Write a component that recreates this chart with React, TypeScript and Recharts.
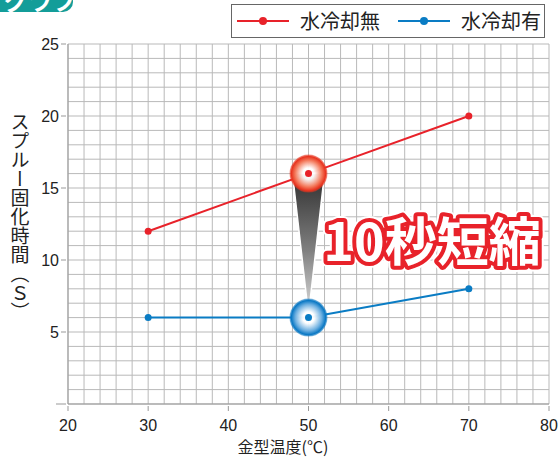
import React from "react";
import { LineChart, Line, XAxis, YAxis, CartesianGrid, ReferenceDot, ReferenceLine } from "recharts";

// mold temperature (°C)
const temps = [30, 50, 70];
// spool solidification time (s)
const noCooling = [12, 16, 20];
const waterCooling = [6, 6, 8];

const seriesNames = ["水冷却無", "水冷却有"];
const seriesColors = ["#e8222a", "#0a7cc4"];

// grid lines every 2°C / every 1 s, labels only on the majors
const xGrid = [20, 22, 24, 26, 28, 30, 32, 34, 36, 38, 40, 42, 44, 46, 48, 50, 52, 54, 56, 58, 60, 62, 64, 66, 68, 70, 72, 74, 76, 78, 80];
const yGrid = [0, 1, 2, 3, 4, 5, 6, 7, 8, 9, 10, 11, 12, 13, 14, 15, 16, 17, 18, 19, 20, 21, 22, 23, 24, 25];
const xLabels = [20, 30, 40, 50, 60, 70, 80];
const yLabels = [5, 10, 15, 20, 25];

const data = temps.map((t, i) => ({ temp: t, dry: noCooling[i], wet: waterCooling[i] }));

const tickFont = "'Liberation Sans', Arial, sans-serif";
const jpFont = "'Noto Sans CJK JP', sans-serif";

function XTick(props: any) {
  const { x, y, payload } = props;
  if (!xLabels.includes(payload.value)) return <g />;
  return (
    <g>
      <line x1={x} y1={y} x2={x} y2={y + 5} stroke="#999" />
      <text x={x} y={y + 25} textAnchor="middle" fontSize={16} fontFamily={tickFont} fill="#222">
        {payload.value}
      </text>
    </g>
  );
}

function YTick(props: any) {
  const { x, y, payload } = props;
  if (payload.value === 0) return <line x1={x - 10} y1={y} x2={x} y2={y} stroke="#999" />;
  if (!yLabels.includes(payload.value)) return <g />;
  return (
    <g>
      <line x1={x - 5} y1={y} x2={x} y2={y} stroke="#999" />
      <text x={x - 7} y={y + 6} textAnchor="end" fontSize={16} fontFamily={tickFont} fill="#222">
        {payload.value}
      </text>
    </g>
  );
}

function Glow({ cx, cy, id, edge, mid, color }: any) {
  return (
    <g>
      <defs>
        <radialGradient id={id} cx="50%" cy="50%" r="50%">
          <stop offset="0%" stopColor="#ffffff" />
          <stop offset="30%" stopColor="#ffffff" stopOpacity={0.95} />
          <stop offset="70%" stopColor={mid} />
          <stop offset="90%" stopColor={edge} />
          <stop offset="100%" stopColor={edge} stopOpacity={0.5} />
        </radialGradient>
      </defs>
      <circle cx={cx} cy={cy} r={19} fill={`url(#${id})`} />
      <circle cx={cx} cy={cy} r={3.5} fill={color} />
    </g>
  );
}

function Wedge(props: any) {
  const { x1, y1, x2, y2 } = props;
  const top = Math.min(y1, y2);
  const bottom = Math.max(y1, y2);
  return (
    <g>
      <defs>
        <linearGradient id="wedgeFill" x1="0" y1="0" x2="0" y2="1">
          <stop offset="0%" stopColor="#2e2e2e" />
          <stop offset="55%" stopColor="#808080" />
          <stop offset="100%" stopColor="#e0e0e0" />
        </linearGradient>
      </defs>
      <polygon
        points={`${x1 - 16},${top} ${x1 + 16},${top} ${x2},${bottom - 3}`}
        fill="url(#wedgeFill)"
        stroke="#ffffff"
        strokeWidth={1.5}
      />
    </g>
  );
}

function Badge(props: any) {
  const { cx, cy } = props;
  const common = {
    x: cx,
    y: cy,
    textAnchor: "middle" as const,
    dominantBaseline: "central" as const,
    fontSize: 52,
    fontWeight: 700,
    fontFamily: jpFont,
  };
  return (
    <g>
      <text {...common} fill="#fff" stroke="#fff" strokeWidth={12} strokeLinejoin="round">10秒短縮</text>
      <text {...common} fill="#fff" stroke="#e8222a" strokeWidth={8} strokeLinejoin="round" style={{ paintOrder: "stroke" }}>
        10秒短縮
      </text>
    </g>
  );
}

function LegendBox() {
  return (
    <div
      style={{
        position: "absolute",
        left: 231,
        top: 4,
        width: 312,
        height: 32,
        border: "1.5px solid #666",
        background: "#fff",
        display: "flex",
        alignItems: "center",
        fontFamily: jpFont,
        fontSize: 20,
        color: "#222",
      }}
    >
      {seriesNames.map((name, i) => (
        <div key={name} style={{ display: "flex", alignItems: "center", marginLeft: i === 0 ? 5 : 18 }}>
          <svg width={52} height={10}>
            <line x1={0} y1={5} x2={52} y2={5} stroke={seriesColors[i]} strokeWidth={2} />
            <circle cx={26} cy={5} r={4} fill={seriesColors[i]} />
          </svg>
          <span style={{ marginLeft: 11, lineHeight: "20px" }}>{name}</span>
        </div>
      ))}
    </div>
  );
}

export default function App() {
  return (
    <div style={{ position: "absolute", left: 0, top: 0, width: 560, height: 457, background: "#fff" }}>
      <LineChart width={560} height={457} data={data} margin={{ top: 44, right: 11, bottom: 13, left: 8 }}>
        <CartesianGrid stroke="#b9b9b9" strokeWidth={1} />
        <XAxis
          dataKey="temp"
          type="number"
          domain={[20, 80]}
          ticks={xGrid}
          interval={0}
          height={40}
          tickSize={0}
          tickLine={false}
          tick={<XTick />}
          stroke="#999"
          label={{
            content: ({ viewBox }: any) => (
              <text x={viewBox.x + 215} y={viewBox.y + 49} textAnchor="middle" fontSize={16} fontFamily={jpFont} fill="#222">
                金型温度(℃)
              </text>
            ),
          }}
        />
        <YAxis
          type="number"
          domain={[0, 25]}
          ticks={yGrid}
          interval={0}
          width={60}
          tickSize={0}
          tickLine={false}
          tick={<YTick />}
          stroke="#999"
          label={{
            content: ({ viewBox }: any) => (
              <text
                x={viewBox.x + 12}
                y={viewBox.y + viewBox.height / 2 - 7}
                textAnchor="middle"
                fontSize={19}
                fontFamily={jpFont}
                fill="#222"
                style={{ writingMode: "vertical-rl" }}
              >
                スプルー固化時間（Ｓ）
              </text>
            ),
          }}
        />
        <Line
          dataKey="dry"
          name={seriesNames[0]}
          stroke={seriesColors[0]}
          strokeWidth={2}
          dot={{ r: 3.5, fill: seriesColors[0], stroke: "none" }}
          isAnimationActive={false}
        />
        <Line
          dataKey="wet"
          name={seriesNames[1]}
          stroke={seriesColors[1]}
          strokeWidth={2}
          dot={{ r: 3.5, fill: seriesColors[1], stroke: "none" }}
          isAnimationActive={false}
        />
        <ReferenceDot
          x={temps[1]}
          y={waterCooling[1]}
          shape={(p: any) => <Glow cx={p.cx} cy={p.cy} id="glowBlue" mid="#6aaee0" edge="#0a78c4" color={seriesColors[1]} />}
        />
        <ReferenceLine
          segment={[
            { x: temps[1], y: noCooling[1] },
            { x: temps[1], y: waterCooling[1] },
          ]}
          shape={(p: any) => <Wedge {...p} />}
        />
        <ReferenceDot
          x={temps[1]}
          y={noCooling[1]}
          shape={(p: any) => <Glow cx={p.cx} cy={p.cy} id="glowRed" mid="#f47a5c" edge="#e8341f" color={seriesColors[0]} />}
        />
        <ReferenceDot x={65.4} y={11.5} shape={(p: any) => <Badge {...p} />} />
      </LineChart>
      <LegendBox />
      <div
        style={{
          position: "absolute",
          left: 0,
          top: 0,
          width: 73,
          height: 12,
          background: "#139d99",
          borderBottomRightRadius: 10,
          overflow: "hidden",
        }}
      >
        <span
          style={{
            position: "absolute",
            left: 4,
            top: -18,
            color: "#fff",
            fontFamily: jpFont,
            fontWeight: 700,
            fontSize: 24,
            whiteSpace: "nowrap",
          }}
        >
          グラフ2
        </span>
      </div>
    </div>
  );
}
